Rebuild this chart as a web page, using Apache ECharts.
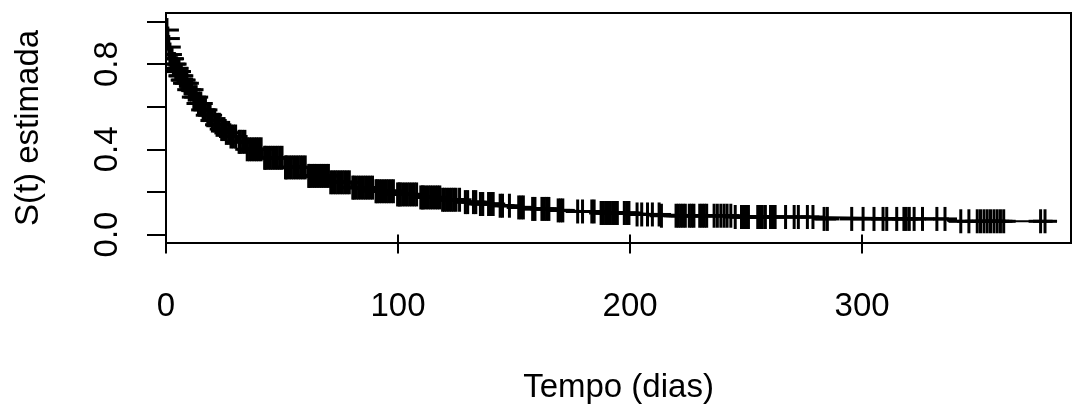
<!DOCTYPE html>
<html>
<head>
<meta charset="utf-8">
<script src="https://cdn.jsdelivr.net/npm/echarts@6/dist/echarts.min.js"></script>
<style>
  html, body { margin: 0; padding: 0; background: #fff; }
  #chart { width: 1073px; height: 405px; }
</style>
</head>
<body>
<div id="chart"></div>
<script>
// Kaplan-Meier estimate: S(t) holds from each time until the next one
const kmTime = [0, 0.3, 0.6, 1, 1.5, 2, 3, 4, 5, 6, 7, 8, 10, 12, 14, 16, 18, 20, 22, 24, 26, 28,
  30.8, 35, 41.7, 51, 61, 70.4, 79.8, 89.8, 99.2, 109.2, 118.5, 127, 134, 142, 150, 157, 166, 173,
  186, 200, 213, 245, 279, 337];
const kmSurv = [1.0, 0.96, 0.92, 0.88, 0.845, 0.825, 0.80, 0.78, 0.765, 0.745, 0.725, 0.71, 0.68,
  0.645, 0.615, 0.585, 0.56, 0.535, 0.515, 0.495, 0.477, 0.46, 0.435, 0.40, 0.36, 0.315, 0.275,
  0.245, 0.22, 0.203, 0.188, 0.174, 0.163, 0.152, 0.143, 0.135, 0.127, 0.12, 0.113, 0.108, 0.101,
  0.094, 0.088, 0.082, 0.073, 0.062];
const lastTime = 384;

// censored observations (marked with +)
const censTime = [0.4, 0.8, 1.2, 1.7, 2.2, 2.6, 3.2, 3.7, 4.2, 4.6, 5.2, 5.6, 6.2, 6.6, 7.2, 7.6,
  8.2, 9, 10, 11, 12, 13, 14, 15,
  16, 17, 18, 19, 20, 21, 22, 23, 24, 25, 26, 27, 28, 29, 30, 31.5, 32, 33, 34, 35, 36, 37, 38, 39,
  40, 41, 42.5, 43, 44, 45, 46, 47, 48, 49, 50, 51.5, 52, 53, 54, 55, 56, 57, 58, 59, 60, 61.5, 62,
  63, 64, 65, 66, 67, 68, 69, 70, 71, 72, 73, 74, 75, 76, 77, 78, 79, 80.5, 81, 82, 83, 84, 85, 86,
  87, 88, 89, 90.5, 91, 92, 93, 94, 95, 96, 97, 98, 99.8, 100.5, 101, 102, 103, 104, 105, 106, 107,
  108, 109.8, 110.5, 111, 112, 113, 114, 115, 116, 117, 118, 119.2, 120, 121, 122, 123, 124, 125,
  126.5, 129, 130, 132.5, 133.5, 135.5, 136.5, 139, 140, 141, 144, 145, 148, 152, 153, 154, 158,
  159, 162, 163, 164, 165, 169, 170, 171, 177.4, 179.5, 183.5, 184.5, 187.5, 188.5, 189.5, 190.5,
  191.5, 192.5, 193.5, 194.5, 197.5, 198.5, 199.5, 203, 205, 207.5, 209.6, 212.5, 213.5, 219.8,
  220.8, 221.8, 222.8, 223.8, 225.5, 226.5, 227.5, 230, 231, 232, 233, 236.2, 237.6, 239.1, 240.5,
  241.8, 243.4, 245.3, 248, 249, 250, 251, 255, 256, 257, 258.3, 260.5, 261.5, 262.5, 267, 270.7,
  272.5, 276.4, 278.8, 283.6, 285, 295.5, 300.4, 305.1, 309, 310.6, 314.9, 318, 319, 320.3, 322.4,
  326, 332.2, 335.7, 342.5, 346, 349.6, 351, 352.5, 353.9, 355.3, 356.8, 358.2, 359.6, 361, 376.9,
  378.8];

const xTicks = [0, 100, 200, 300];
const yTicks = [0, 0.2, 0.4, 0.6, 0.8, 1.0];
const yLabels = [0, 0.4, 0.8];

const font = '"Liberation Sans", Arial, sans-serif';
const markHalf = 12;
const markStroke = 3;

function survAt(t) {
  let s = kmSurv[0];
  for (let i = 0; i < kmTime.length; i++) {
    if (kmTime[i] <= t) s = kmSurv[i];
  }
  return s;
}

const curve = kmTime.map((t, i) => [t, kmSurv[i]]);
curve.push([lastTime, kmSurv[kmSurv.length - 1]]);
const marks = censTime.map(t => [t, survAt(t)]);

// "+" marks, clipped to the plot box like R does
function renderPlus(params, api) {
  const p = api.coord([api.value(0), api.value(1)]);
  const h = markStroke / 2;
  return {
    type: 'group',
    children: [
      { type: 'rect', shape: { x: p[0] - h, y: p[1] - markHalf, width: markStroke, height: markHalf * 2 },
        style: { fill: '#000' } },
      { type: 'rect', shape: { x: p[0] - markHalf, y: p[1] - h, width: markHalf * 2, height: markStroke },
        style: { fill: '#000' } }
    ]
  };
}

const chart = echarts.init(document.getElementById('chart'), null, { renderer: 'canvas' });
chart.setOption({
  animation: false,
  backgroundColor: '#fff',
  grid: {
    left: 166, right: 2, top: 13, bottom: 162,
    outerBoundsMode: 'none',
    containLabel: false,
    show: true, borderColor: '#000', borderWidth: 2, backgroundColor: 'transparent'
  },
  xAxis: {
    type: 'value',
    min: 0,
    max: 390,
    name: 'Tempo (dias)',
    nameLocation: 'middle',
    nameGap: 128,
    nameTextStyle: { fontFamily: font, fontSize: 33, color: '#000' },
    axisLine: { show: false },
    axisTick: { show: true, length: 19, lineStyle: { color: '#000', width: 2 }, customValues: xTicks },
    axisLabel: { fontFamily: font, fontSize: 33, color: '#000', margin: 47, customValues: xTicks },
    splitLine: { show: false }
  },
  yAxis: {
    type: 'value',
    min: -0.04,
    max: 1.04,
    name: 'S(t) estimada',
    nameLocation: 'middle',
    nameGap: 121,
    nameTextStyle: { fontFamily: font, fontSize: 33, color: '#000' },
    axisLine: { show: false },
    axisTick: { show: true, length: 19, lineStyle: { color: '#000', width: 2 }, customValues: yTicks },
    axisLabel: {
      fontFamily: font, fontSize: 33, color: '#000', rotate: 90, margin: 42,
      customValues: yLabels, formatter: v => v.toFixed(1)
    },
    splitLine: { show: false }
  },
  series: [
    {
      type: 'line',
      data: curve,
      step: 'end',
      showSymbol: false,
      lineStyle: { color: '#000', width: 2 },
      z: 2
    },
    {
      type: 'custom',
      data: marks,
      renderItem: renderPlus,
      clip: true,
      z: 3
    }
  ]
});
</script>
</body>
</html>
